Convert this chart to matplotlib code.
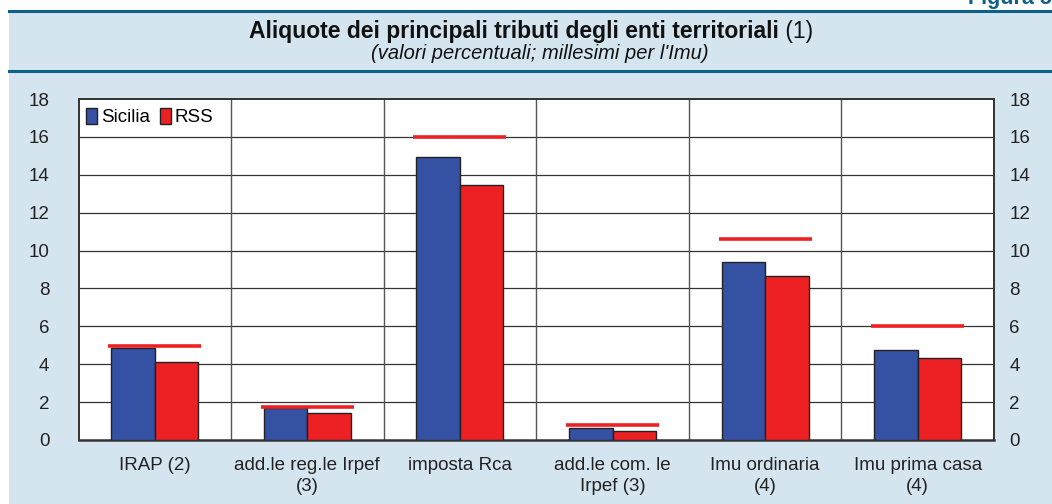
import matplotlib

matplotlib.use("Agg")
import matplotlib.pyplot as plt
import numpy as np
from matplotlib.patches import Rectangle, Patch
from matplotlib.lines import Line2D

plt.rcParams["font.family"] = ["Liberation Sans", "DejaVu Sans"]

categories = [
    "IRAP (2)",
    "add.le reg.le Irpef\n(3)",
    "imposta Rca",
    "add.le com. le\nIrpef (3)",
    "Imu ordinaria\n(4)",
    "Imu prima casa\n(4)",
]
sicilia = [4.84, 1.71, 14.94, 0.65, 9.40, 4.73]
rss = [4.14, 1.44, 13.46, 0.46, 8.66, 4.31]
massimo = [4.95, 1.74, 16.0, 0.80, 10.6, 6.0]

BLUE = "#3551A4"
RED = "#ED2024"
BG = "#D4E5EF"
TEAL = "#0E6089"
TXT = "#222222"

fig = plt.figure(figsize=(10.52, 5.04), dpi=100, facecolor="white")

# sfondo azzurro + riquadro titolo
fig.patches.append(Rectangle((8.5 / 1052, 0), 1, 1 - 11 / 504, transform=fig.transFigure,
                             facecolor=BG, edgecolor="none", zorder=-10))
for yy in (1 - 11 / 504, 1 - 71 / 504):
    fig.add_artist(Line2D([8.5 / 1052, 1], [yy, yy], transform=fig.transFigure,
                          color=TEAL, linewidth=2.2))

fig.text(968 / 1052, 1 - 4 / 504, "Figura 5", fontsize=15.5, fontweight="bold",
         color=TEAL, ha="left", va="baseline")

# titolo: parte in grassetto + "(1)" normale, centrato insieme
renderer = fig.canvas.get_renderer()
t1 = fig.text(0, 0.937, "Aliquote dei principali tributi degli enti territoriali",
              fontsize=16.5, fontweight="bold", ha="left", va="center", color="#111111")
t2 = fig.text(0, 0.937, " (1)", fontsize=16.5, ha="left", va="center", color="#111111")
w1 = t1.get_window_extent(renderer).width
w2 = t2.get_window_extent(renderer).width
x0 = (531 - (w1 + w2) / 2) / 1052
t1.set_x(x0)
t2.set_x(x0 + w1 / 1052)
fig.text(540 / 1052, 0.893, "(valori percentuali; millesimi per l'Imu)", fontsize=14.5,
         style="italic", ha="center", va="center", color="#111111")

ax = fig.add_axes([78.5 / 1052, 64 / 504, (994 - 78.5) / 1052, (440 - 99) / 504])
ax.set_facecolor("white")

x = np.arange(len(categories))
w = 0.285
ax.bar(x - w / 2, sicilia, width=w, color=BLUE, edgecolor="#222222", linewidth=1,
       zorder=3, label="Sicilia")
ax.bar(x + w / 2, rss, width=w, color=RED, edgecolor="#222222", linewidth=1,
       zorder=3, label="RSS")
# valori massimi RSS
ax.hlines(massimo, x - 0.305, x + 0.305, color=RED, linewidth=2.6, zorder=4)

ax.set_xlim(-0.5, len(categories) - 0.5)
ax.set_ylim(0, 18)
ax.set_yticks(range(0, 19, 2))
ax.set_xticks(x)
ax.set_xticklabels(categories, fontsize=13.5, linespacing=1.35)

# griglia: orizzontali + separatori tra categorie
for yv in range(2, 18, 2):
    ax.axhline(yv, color="#333333", linewidth=0.9, zorder=1)
for xv in np.arange(0.5, len(categories) - 0.5, 1):
    ax.axvline(xv, color="#555555", linewidth=1.0, zorder=1)

ax.tick_params(axis="both", length=0, labelsize=13.5, colors=TXT)
ax.tick_params(axis="y", pad=21)
ax.tick_params(axis="x", pad=12)
for s in ax.spines.values():
    s.set_color("#333333")
    s.set_linewidth(1.4)
ax.spines["bottom"].set_linewidth(1.8)

# stessa scala ripetuta a destra
ax2 = ax.twinx()
ax2.set_ylim(ax.get_ylim())
ax2.set_yticks(range(0, 19, 2))
ax2.tick_params(axis="y", length=0, labelsize=13.5, colors=TXT, pad=11)
for s in ax2.spines.values():
    s.set_visible(False)

handles = [Patch(facecolor=BLUE, edgecolor="#222222"), Patch(facecolor=RED, edgecolor="#222222")]
ax.legend(handles, ["Sicilia", "RSS"], loc="upper left", ncol=2, frameon=False,
          fontsize=13.5, handlelength=0.6, handleheight=0.9, handletextpad=0.2,
          columnspacing=0.5, borderaxespad=0.3, bbox_to_anchor=(-0.006, 1.012))

plt.savefig("out.png", dpi=100, facecolor="white")
plt.close()
